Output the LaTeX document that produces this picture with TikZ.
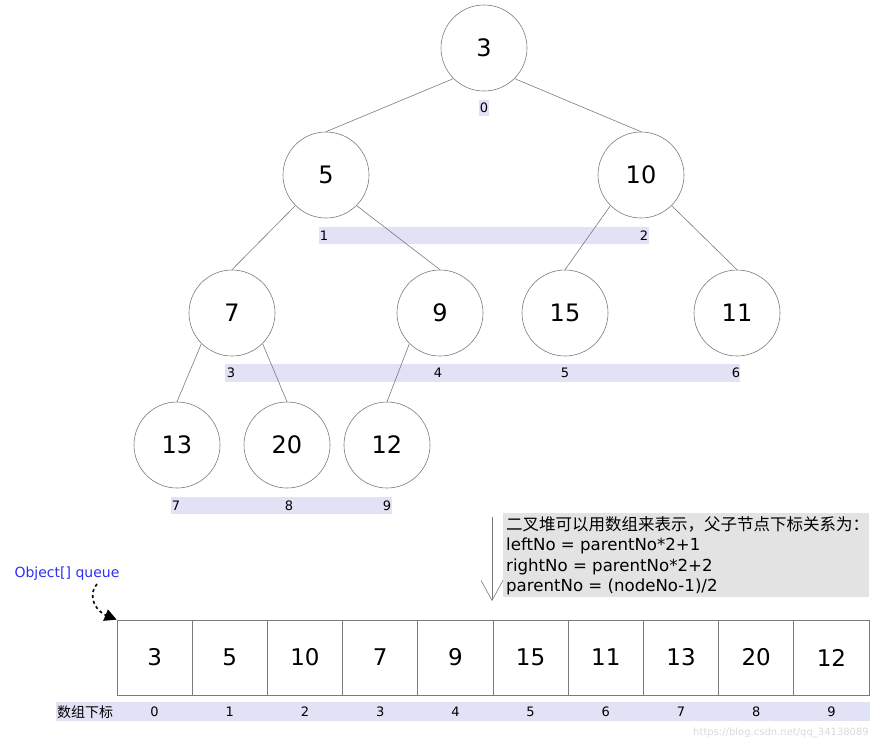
\documentclass[tikz,border=0pt]{standalone}
\usepackage{fontspec}
\setmainfont{DejaVu Sans}
\newfontfamily\cjk{Noto Sans CJK SC}
\usetikzlibrary{arrows.meta}
\definecolor{barcol}{HTML}{E2E2F7}
\definecolor{edgecol}{HTML}{7A7A7A}
\definecolor{notebg}{HTML}{E3E3E3}
\definecolor{qblue}{HTML}{2F2FF0}
\begin{document}
\begin{tikzpicture}[x=1pt,y=-1pt,
  hnode/.style={circle,draw=edgecol,line width=0.6pt,minimum size=86pt,inner sep=0pt,font=\fontsize{24}{24}\selectfont},
  hedge/.style={draw=edgecol,line width=0.6pt},
  idx/.style={inner sep=0pt,font=\fontsize{13}{13}\selectfont},
  cell/.style={draw=edgecol,line width=0.7pt,minimum width=75.2pt,minimum height=75pt,inner sep=0pt,font=\fontsize{23}{23}\selectfont},
  bar/.style={fill=barcol}
]
\useasboundingbox (0,0) rectangle (888,748);

% index bars
\fill[bar] (479,100) rectangle (489,116);
\fill[bar] (319,227) rectangle (649,244);
\fill[bar] (225,364) rectangle (740,382);
\fill[bar] (171,497) rectangle (392,514);
\fill[bar] (56,702) rectangle (870,721);

% heap nodes
\node[hnode] (n0) at (484,48) {3};
\node[hnode] (n1) at (326,175) {5};
\node[hnode] (n2) at (641,175) {10};
\node[hnode] (n3) at (232,313) {7};
\node[hnode] (n4) at (440,313) {9};
\node[hnode] (n5) at (565,313) {15};
\node[hnode] (n6) at (737,313) {11};
\node[hnode] (n7) at (177,445) {13};
\node[hnode] (n8) at (287,445) {20};
\node[hnode] (n9) at (387,445) {12};

% edges
\draw[hedge] (n0.south west) -- (n1.north);
\draw[hedge] (n0.south east) -- (n2.north);
\draw[hedge] (n1.south west) -- (n3.north);
\draw[hedge] (n1.south east) -- (n4.north);
\draw[hedge] (n2.south west) -- (n5.north);
\draw[hedge] (n2.south east) -- (n6.north);
\draw[hedge] (n3.south west) -- (n7.north);
\draw[hedge] (n3.south east) -- (n8.north);
\draw[hedge] (n4.south west) -- (n9.north);

% index labels
\node[idx] (i0) at (484,108) {0};
\node[idx] (i1) at (324,236) {1};
\node[idx] (i2) at (644,236) {2};
\node[idx] (i3) at (231,373) {3};
\node[idx] (i4) at (438,373) {4};
\node[idx] (i5) at (565,373) {5};
\node[idx] (i6) at (736,373) {6};
\node[idx] (i7) at (176,506) {7};
\node[idx] (i8) at (289,506) {8};
\node[idx] (i9) at (387,506) {9};

% array cells
\foreach \v [count=\i from 0] in {3,5,10,7,9,15,11,13,20,12}{
  \node[cell] (c\i) at ({117+75.2*(\i+0.5)},657.5) {\v};
  \node[idx] (b\i) at ({117+75.2*(\i+0.5)},712) {\i};
}
\node[inner sep=0pt,font=\cjk\fontsize{14}{14}\selectfont] (blabel) at (85,712) {数组下标};

% note
\fill[notebg] (503,513) rectangle (869,597);
\node[anchor=north west,inner sep=0pt,align=left,font=\fontsize{16.6}{20.5}\selectfont] (note) at (506,516)
  {{\cjk\fontsize{16.5}{20.5}\selectfont 二叉堆可以用数组来表示，父子节点下标关系为：}\\
   leftNo = parentNo*2+1\\
   rightNo = parentNo*2+2\\
   parentNo = (nodeNo-1)/2};
\coordinate (atop) at (492,517);
\coordinate (abot) at (492,601);
\draw[draw=edgecol,line width=0.6pt,-{Straight Barb[length=20pt,width=22pt]}] (atop) -- (abot);

% Object[] queue
\node[text=qblue,inner sep=0pt,font=\fontsize{14}{14}\selectfont] (q) at (67,574) {Object[] queue};
\coordinate (qs) at (97,584);
\draw[line width=1.6pt,dash pattern=on 3pt off 3pt,-{Triangle[length=12pt,width=12pt]}]
  (qs) .. controls (86,598) and (98,612) .. (c0.north west);

% watermark
\node[anchor=east,inner sep=0pt,text=black!15,font=\fontsize{10}{10}\selectfont] (wm) at (869,733) {https://blog.csdn.net/qq\_34138089};
\end{tikzpicture}
\end{document}
